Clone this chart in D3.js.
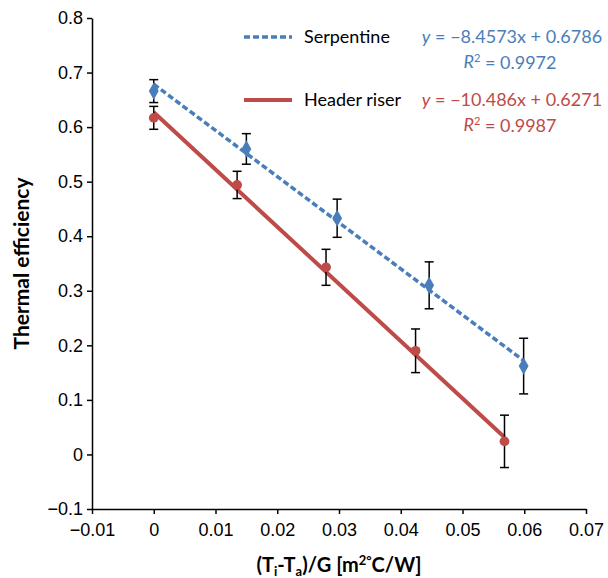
<!DOCTYPE html>
<html>
<head>
<meta charset="utf-8">
<script src="https://cdn.jsdelivr.net/npm/d3@7"></script>
<style>
	body { margin: 0; background: #fff; }
	svg { font-family: Lato, "Open Sans", sans-serif; }
</style>
</head>
<body>
<div id="chart"></div>
<script>

// data
var serpX = [0, 0.0150, 0.0297, 0.0446, 0.0599];
var serpY = [0.666, 0.560, 0.433, 0.310, 0.162];
var serpErr = [0.021, 0.028, 0.035, 0.043, 0.051];

var headX = [0, 0.0135, 0.0279, 0.0424, 0.0568];
var headY = [0.617, 0.494, 0.343, 0.190, 0.024];
var headErr = [0.021, 0.025, 0.033, 0.040, 0.048];

// linear trendlines shown in the chart
var serpFit = [-8.4573, 0.6786];
var headFit = [-10.486, 0.6271];

var xTicks = [-0.01, 0, 0.01, 0.02, 0.03, 0.04, 0.05, 0.06, 0.07];
var yTicks = [-0.1, 0, 0.1, 0.2, 0.3, 0.4, 0.5, 0.6, 0.7, 0.8];


var Chart = (function()
{
	var W = 608, H = 578;
	var m = {top: 18, right: 22, bottom: 69, left: 92};
	var BLUE = "#4a7ebb", RED = "#be4b48";

	var svg = d3.select("#chart").append("svg")
	.attr("width", W)
	.attr("height", H);

	var x = d3.scaleLinear().domain([-0.01, 0.07]).range([m.left, W - m.right]);
	var y = d3.scaleLinear().domain([-0.1, 0.8]).range([H - m.bottom, m.top]);

	var fmt = function(d)
	{
		if (d === 0) return "0";
		var s = String(+d.toFixed(2));
		return d < 0 ? "\u2212" + s.slice(1) : s;
	}

	// axes
	var xAxis = svg.append("g")
	.attr("transform", "translate(0," + y(-0.1) + ")")
	.call(d3.axisBottom(x).tickValues(xTicks).tickFormat(fmt).tickSize(5).tickSizeOuter(0));

	var yAxis = svg.append("g")
	.attr("transform", "translate(" + x(-0.01) + ",0)")
	.call(d3.axisLeft(y).tickValues(yTicks).tickFormat(fmt).tickSize(5).tickSizeOuter(0));

	svg.selectAll(".domain, .tick line")
	.attr("stroke", "#000")
	.attr("stroke-width", 1.5);

	xAxis.selectAll("text")
	.attr("font-size", 18)
	.attr("fill", "#000")
	.attr("y", 14);

	yAxis.selectAll("text")
	.attr("font-size", 18)
	.attr("fill", "#000")
	.attr("x", -9);

	// trendlines
	var series = [
		{xs: serpX, ys: serpY, err: serpErr, fit: serpFit, color: BLUE, dash: "6,3", marker: d3.symbolDiamond},
		{xs: headX, ys: headY, err: headErr, fit: headFit, color: RED, dash: null, marker: d3.symbolCircle}
	];

	series.forEach(function(s)
	{
		var x0 = d3.min(s.xs), x1 = d3.max(s.xs);
		svg.append("line")
		.attr("x1", x(x0))
		.attr("y1", y(s.fit[0] * x0 + s.fit[1]))
		.attr("x2", x(x1))
		.attr("y2", y(s.fit[0] * x1 + s.fit[1]))
		.attr("stroke", s.color)
		.attr("stroke-width", s.dash ? 3.5 : 4)
		.attr("stroke-dasharray", s.dash);
	})

	// error bars and markers
	series.forEach(function(s)
	{
		var pts = s.xs.map(function(d, i) { return {x: d, y: s.ys[i], e: s.err[i]}; });

		var eb = svg.append("g")
		.attr("stroke", "#000")
		.attr("stroke-width", 1.5);

		eb.selectAll("line.v").data(pts).enter().append("line")
		.attr("x1", function(d) { return x(d.x); })
		.attr("x2", function(d) { return x(d.x); })
		.attr("y1", function(d) { return y(d.y + d.e); })
		.attr("y2", function(d) { return y(d.y - d.e); });

		[1, -1].forEach(function(sign)
		{
			eb.selectAll(null).data(pts).enter().append("line")
			.attr("x1", function(d) { return x(d.x) - 4.5; })
			.attr("x2", function(d) { return x(d.x) + 4.5; })
			.attr("y1", function(d) { return y(d.y + sign * d.e); })
			.attr("y2", function(d) { return y(d.y + sign * d.e); });
		})

		svg.append("g").selectAll("path").data(pts).enter().append("path")
		.attr("d", d3.symbol().type(s.marker).size(s.marker === d3.symbolCircle ? 75 : 85))
		.attr("transform", function(d) { return "translate(" + x(d.x) + "," + y(d.y) + ")"; })
		.attr("fill", s.color);
	})

	// legend
	var leg = [
		{name: "Serpentine", color: BLUE, dash: "6,3", w: 3.5, eq: ["\u22128.4573x + 0.6786"], r2: "0.9972", cy: 37},
		{name: "Header riser", color: RED, dash: null, w: 4, eq: ["\u221210.486x + 0.6271"], r2: "0.9987", cy: 100}
	];

	leg.forEach(function(l)
	{
		svg.append("line")
		.attr("x1", 244).attr("x2", 292)
		.attr("y1", l.cy).attr("y2", l.cy)
		.attr("stroke", l.color)
		.attr("stroke-width", l.w)
		.attr("stroke-dasharray", l.dash);

		svg.append("text")
		.attr("x", 304).attr("y", l.cy)
		.attr("dy", "0.35em")
		.attr("font-size", 18)
		.attr("fill", "#000")
		.text(l.name);

		var eq = svg.append("text")
		.attr("x", 512).attr("y", l.cy)
		.attr("dy", "0.35em")
		.attr("text-anchor", "middle")
		.attr("font-size", 18)
		.attr("fill", l.color);
		eq.append("tspan").attr("font-style", "italic").text("y");
		eq.append("tspan").text(" = " + l.eq[0]);

		var r = svg.append("text")
		.attr("x", 510).attr("y", l.cy + 25)
		.attr("dy", "0.35em")
		.attr("text-anchor", "middle")
		.attr("font-size", 18)
		.attr("fill", l.color);
		r.append("tspan").attr("font-style", "italic").text("R");
		r.append("tspan").attr("font-size", 11).attr("dy", "-0.6em").text("2");
		r.append("tspan").attr("dy", "0.4em").text(" = " + l.r2);
	})

	// axis titles
	svg.append("text")
	.attr("transform", "translate(29," + ((m.top + H - m.bottom) / 2) + ") rotate(-90)")
	.attr("text-anchor", "middle")
	.attr("font-size", 21)
	.attr("font-weight", "bold")
	.text("Thermal efficiency");

	var xt = svg.append("text")
	.attr("x", (m.left + W - m.right) / 2)
	.attr("y", 572)
	.attr("text-anchor", "middle")
	.attr("font-size", 20)
	.attr("font-weight", "bold");
	xt.append("tspan").text("(T");
	xt.append("tspan").attr("font-size", 13).attr("dy", 4).text("i");
	xt.append("tspan").attr("dy", -4).text("-T");
	xt.append("tspan").attr("font-size", 13).attr("dy", 4).text("a");
	xt.append("tspan").attr("dy", -4).text(")/G [m");
	xt.append("tspan").attr("font-size", 13).attr("dy", -7).text("2\u00b0");
	xt.append("tspan").attr("dy", 7).text("C/W]");

	return svg;
})();

</script>
</body>
</html>
